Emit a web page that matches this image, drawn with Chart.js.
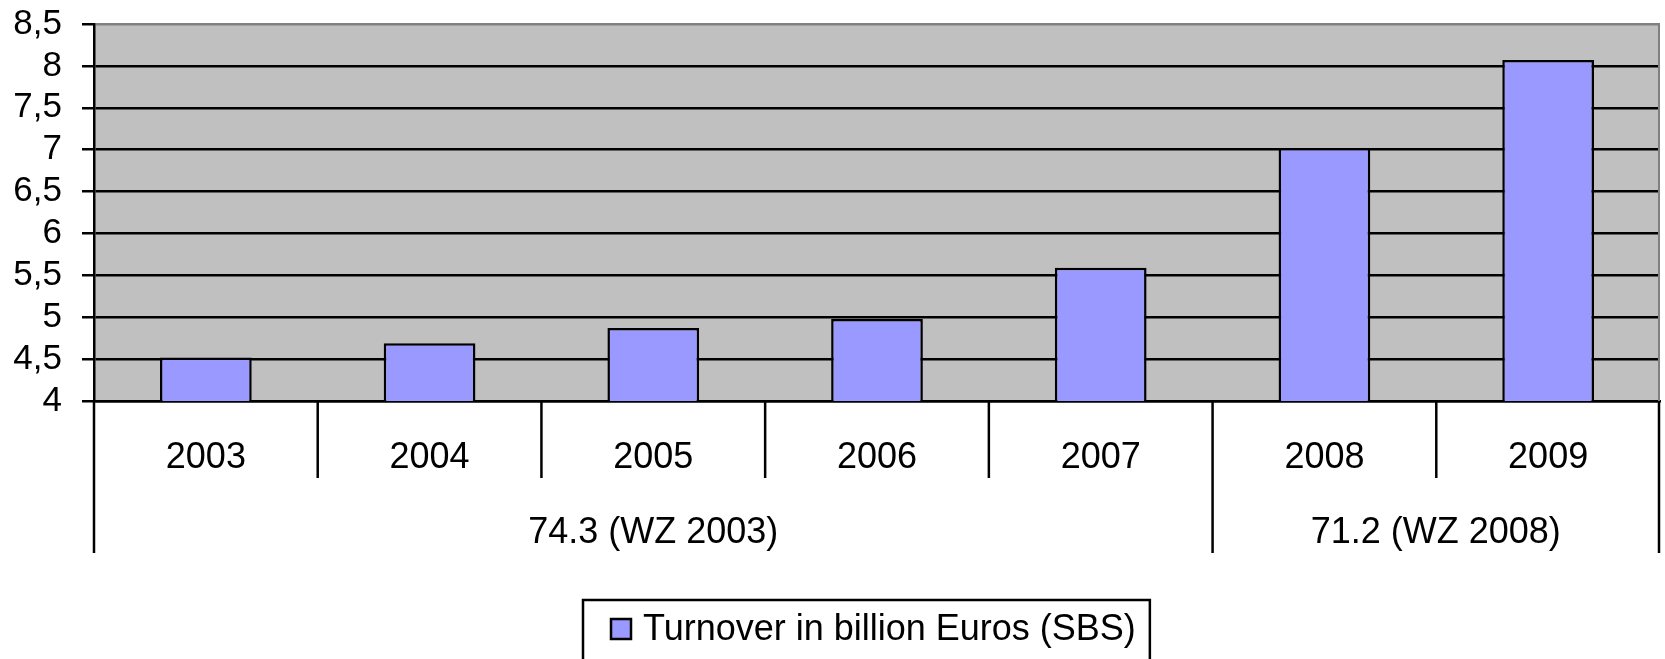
<!DOCTYPE html>
<html>
<head>
<meta charset="utf-8">
<script src="https://cdn.jsdelivr.net/npm/chart.js@4"></script>
<style>
  body { margin: 0; background: #fff; }
  #wrap { width: 1665px; height: 659px; position: relative; }
</style>
</head>
<body>
<div id="wrap"><canvas id="chart"></canvas></div>
<script>
// data
var years = ['2003', '2004', '2005', '2006', '2007', '2008', '2009'];
var turnover = [4.52, 4.69, 4.87, 4.98, 5.59, 7.02, 8.07];
var groupLabels = ['74.3 (WZ 2003)', '71.2 (WZ 2008)'];
var groupSpans = [5, 2];
var seriesName = 'Turnover in billion Euros (SBS)';

var FONT = "'Liberation Sans', Arial, sans-serif";

// grey plot area, two-level category axis and boxed legend
var groupAxis = {
  id: 'groupAxis',
  beforeDraw: function(chart) {
    var a = chart.chartArea, ctx = chart.ctx;
    ctx.save();
    ctx.fillStyle = '#c0c0c0';
    ctx.fillRect(a.left, a.top, a.right - a.left, a.bottom - a.top);
    ctx.restore();
  },
  afterDraw: function(chart) {
    var a = chart.chartArea, ctx = chart.ctx, x = chart.scales.x;
    ctx.save();
    // plot border on the right
    ctx.strokeStyle = '#808080';
    ctx.lineWidth = 2;
    ctx.beginPath();
    ctx.moveTo(a.right - 1, a.top);
    ctx.lineTo(a.right - 1, a.bottom);
    ctx.stroke();

    function edge(i) {
      if (i <= 0) return a.left;
      if (i >= years.length) return a.right - 1;
      return (x.getPixelForValue(i - 1) + x.getPixelForValue(i)) / 2;
    }
    var groupEdges = [0], s = 0;
    for (var g = 0; g < groupSpans.length; g++) { s += groupSpans[g]; groupEdges.push(s); }

    ctx.strokeStyle = '#000';
    ctx.lineWidth = 2.5;
    for (var i = 0; i <= years.length; i++) {
      var len = groupEdges.indexOf(i) >= 0 ? 152 : 77;
      var px = edge(i);
      ctx.beginPath();
      ctx.moveTo(px, a.bottom);
      ctx.lineTo(px, a.bottom + len);
      ctx.stroke();
    }

    ctx.fillStyle = '#000';
    ctx.font = '36px ' + FONT;
    ctx.textAlign = 'center';
    ctx.textBaseline = 'middle';
    for (var j = 0; j < years.length; j++) {
      ctx.fillText(years[j], x.getPixelForValue(j), a.bottom + 57);
    }
    for (var k = 0; k < groupLabels.length; k++) {
      var cx = (edge(groupEdges[k]) + edge(groupEdges[k + 1])) / 2;
      ctx.fillText(groupLabels[k], cx, a.bottom + 132);
    }

    // legend box
    ctx.font = '36px ' + FONT;
    var tw = ctx.measureText(seriesName).width;
    var bw = 28 + 20 + 12 + tw + 14;
    var bx = Math.round((a.left + a.right) / 2 - 11 - bw / 2);
    var by = 600;
    ctx.lineWidth = 2.5;
    ctx.strokeStyle = '#000';
    ctx.strokeRect(bx, by, bw, 80);
    ctx.fillStyle = '#9999ff';
    ctx.fillRect(bx + 28, by + 19, 20, 20);
    ctx.strokeRect(bx + 28, by + 19, 20, 20);
    ctx.fillStyle = '#000';
    ctx.textAlign = 'left';
    ctx.fillText(seriesName, bx + 60, by + 30);
    ctx.restore();
  }
};

var ctx = document.getElementById('chart').getContext('2d');
var chart = new Chart(ctx, {
  type: 'bar',
  data: {
    labels: years,
    datasets: [{
      label: seriesName,
      data: turnover,
      backgroundColor: '#9999ff',
      borderColor: '#000',
      borderWidth: 2.5,
      barPercentage: 0.41,
      categoryPercentage: 1
    }]
  },
  options: {
    responsive: true,
    maintainAspectRatio: false,
    animation: false,
    layout: { padding: { top: 24, right: 5, left: 0, bottom: 0 } },
    plugins: {
      legend: { display: false },
      tooltip: { enabled: false }
    },
    scales: {
      x: {
        grid: { display: false },
        border: { display: true, color: '#000', width: 2.5 },
        ticks: { display: false },
        afterFit: function(s) { s.height = 258; }
      },
      y: {
        min: 4,
        max: 8.5,
        ticks: {
          stepSize: 0.5,
          autoSkip: false,
          color: '#000',
          padding: 20,
          font: { family: FONT, size: 35 },
          callback: function(v) { return String(v).replace('.', ','); }
        },
        grid: {
          color: function(c) { return c.tick && c.tick.value === 8.5 ? '#808080' : '#000'; },
          lineWidth: 2.5,
          tickLength: 12,
          tickColor: '#000',
          tickWidth: 2.5
        },
        border: { display: true, color: '#000', width: 2.5 },
        afterFit: function(s) {
          s.width = 94;
          s.paddingTop = 0;
          s.paddingBottom = 0;
        }
      }
    }
  },
  plugins: [groupAxis]
});
</script>
</body>
</html>
